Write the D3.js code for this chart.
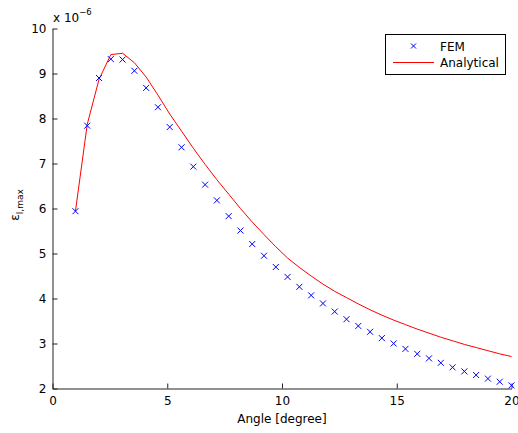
<!DOCTYPE html>
<html><head><meta charset="utf-8">
<script src="https://cdn.jsdelivr.net/npm/d3@7"></script>
<style>
html,body{margin:0;padding:0;background:#fff;}
svg{display:block;font-family:"DejaVu Sans",sans-serif;}
</style></head>
<body><svg id="c" width="518" height="433"></svg>
<script>
const angles = [1.000,1.514,2.027,2.541,3.054,3.568,4.081,4.595,5.108,5.622,6.135,6.649,7.162,7.676,8.189,8.703,9.216,9.730,10.243,10.757,11.270,11.784,12.297,12.811,13.324,13.838,14.351,14.865,15.378,15.892,16.405,16.919,17.432,17.946,18.459,18.973,19.486,20.000];
const femValues = [5.94,7.84,8.90,9.32,9.31,9.06,8.68,8.25,7.81,7.36,6.93,6.53,6.18,5.83,5.51,5.21,4.95,4.70,4.48,4.26,4.07,3.89,3.71,3.54,3.39,3.26,3.12,3.00,2.88,2.77,2.67,2.57,2.47,2.38,2.30,2.22,2.15,2.07];
const analyticalValues = [5.94,7.87,8.87,9.42,9.45,9.24,8.92,8.52,8.10,7.72,7.34,6.98,6.64,6.32,6.00,5.70,5.42,5.15,4.90,4.69,4.50,4.32,4.16,4.02,3.88,3.75,3.63,3.52,3.42,3.32,3.23,3.14,3.06,2.98,2.91,2.84,2.77,2.71];
const xTicks = [0,5,10,15,20];
const yTicks = [2,3,4,5,6,7,8,9,10];
const seriesNames = ["FEM","Analytical"];

const svg = d3.select("#c");
const x = d3.scaleLinear().domain([0,20]).range([52.5,511.5]);
const y = d3.scaleLinear().domain([2,10]).range([388.5,28.5]);

// axes
const xa = svg.append("g").attr("transform","translate(0,388.5)")
  .call(d3.axisBottom(x).tickValues(xTicks).tickFormat(d3.format("d")).tickSizeInner(-5).tickSizeOuter(0).tickPadding(8));
const ya = svg.append("g").attr("transform","translate(52.5,0)")
  .call(d3.axisLeft(y).tickValues(yTicks).tickFormat(d3.format("d")).tickSizeInner(-5).tickSizeOuter(0).tickPadding(6));
[xa,ya].forEach(g=>{
  g.selectAll("path.domain").attr("stroke","#222").attr("stroke-width",1);
  g.selectAll(".tick line").attr("stroke","#222");
  g.selectAll(".tick text").attr("fill","#000").style("font-size","12px").style("font-family","'DejaVu Sans',sans-serif");
});

// analytical line
svg.append("path").datum(angles.map((a,i)=>[a,analyticalValues[i]]))
  .attr("fill","none").attr("stroke","#ff0000").attr("stroke-width",1)
  .attr("d", d3.line().x(d=>x(d[0])).y(d=>y(d[1])));

// FEM crosses
const cs = 3;
svg.append("g").selectAll("path").data(angles.map((a,i)=>[a,femValues[i]])).join("path")
  .attr("fill","none").attr("stroke","#0000ff").attr("stroke-width",1)
  .attr("d", d=>{const px=x(d[0]),py=y(d[1]);return `M${px-cs},${py-cs}L${px+cs},${py+cs}M${px-cs},${py+cs}L${px+cs},${py-cs}`;});

// exponent label
const ex = svg.append("text").attr("x",53).attr("y",21.5).style("font-size","12px").attr("fill","#000");
ex.append("tspan").text("x 10");
ex.append("tspan").attr("dy",-7).style("font-size","8.5px").text("\u22126");

// axis labels
svg.append("text").attr("x",282).attr("y",423).attr("text-anchor","middle").style("font-size","12px").attr("fill","#000").text("Angle [degree]");
const yl = svg.append("text").attr("transform","translate(19,205) rotate(-90)").attr("text-anchor","middle").style("font-size","12px").attr("fill","#000");
yl.append("tspan").text("\u03b5");
yl.append("tspan").attr("dy",3.5).style("font-size","9px").text("l,max");

// legend
const lg = svg.append("g");
lg.append("rect").attr("x",385.5).attr("y",34.5).attr("width",120).attr("height",40).attr("fill","#fff").attr("stroke","#000").attr("stroke-width",1);
const lc = 2.5, lx = 413.5, ly = 46;
lg.append("path").attr("fill","none").attr("stroke","#0000ff").attr("stroke-width",1)
  .attr("d",`M${lx-lc},${ly-lc}L${lx+lc},${ly+lc}M${lx-lc},${ly+lc}L${lx+lc},${ly-lc}`);
lg.append("text").attr("x",440).attr("y",51).style("font-size","12px").attr("fill","#000").text(seriesNames[0]);
lg.append("line").attr("x1",393).attr("x2",434).attr("y1",62.5).attr("y2",62.5).attr("stroke","#ff0000").attr("stroke-width",1);
lg.append("text").attr("x",440).attr("y",67).style("font-size","12px").attr("fill","#000").text(seriesNames[1]);
</script></body></html>
